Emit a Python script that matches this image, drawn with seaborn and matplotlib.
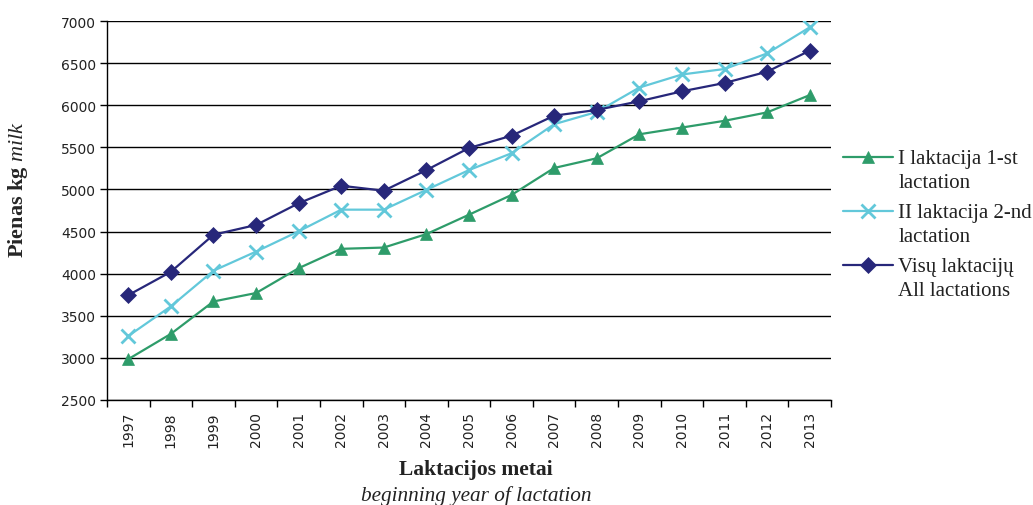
import matplotlib
matplotlib.use("Agg")
import numpy as np
import matplotlib.pyplot as plt
import seaborn as sns
import pandas as pd
from matplotlib.ticker import FixedLocator
from matplotlib.legend_handler import HandlerLine2D

years = list(range(1997, 2014))
first_lact = [2985, 3285, 3670, 3770, 4065, 4295, 4310, 4470, 4700, 4935, 5255, 5370, 5655, 5735, 5815, 5915, 6120]
second_lact = [3260, 3612, 4035, 4262, 4503, 4760, 4760, 4995, 5230, 5430, 5775, 5920, 6210, 6365, 6430, 6615, 6925]
all_lact = [3745, 4022, 4462, 4578, 4836, 5044, 4985, 5230, 5492, 5638, 5876, 5944, 6047, 6165, 6264, 6398, 6648]
series_names = ["I laktacija 1-st\nlactation", "II laktacija 2-nd\nlactation", "Visų laktacijų\nAll lactations"]
colors = ["#2e9c6a", "#62c8da", "#27277a"]
markers = ["^", "x", "D"]

sns.set_theme(style="white")
plt.rcParams["mathtext.fontset"] = "custom"
plt.rcParams["mathtext.rm"] = "Liberation Serif"
plt.rcParams["mathtext.bf"] = "Liberation Serif:bold"
plt.rcParams["mathtext.it"] = "Liberation Serif:italic"

fig = plt.figure(figsize=(10.33, 5.06), dpi=100)
ax = fig.add_axes([107 / 1033, 1 - 401 / 506, (831 - 107) / 1033, (401 - 22) / 506])

for vals, name, c, m in zip([first_lact, second_lact, all_lact], series_names, colors, markers):
    d = pd.DataFrame({"year": years, "value": vals})
    ms = {"^": 9, "x": 10, "D": 8}[m]
    sns.lineplot(data=d, x="year", y="value", color=c, marker=m, markersize=ms,
                 markeredgecolor=c, markerfacecolor=c,
                 markeredgewidth=(2.0 if m == "x" else 0.5),
                 linewidth=1.6, label=name, legend=False, ax=ax)

ax.set_xlim(years[0] - 0.5, years[-1] + 0.5)
ax.set_ylim(2500, 7000)
ax.set_yticks(range(2500, 7001, 500))
ax.set_xticks(years)
ax.set_xticklabels([str(y) for y in years], rotation=90, fontsize=10, family="DejaVu Sans", color="#222222")
ax.xaxis.set_minor_locator(FixedLocator([y - 0.5 for y in years] + [years[-1] + 0.5]))
ax.tick_params(axis="x", which="major", length=0, pad=8)
ax.tick_params(axis="x", which="minor", length=5, width=1, color="black", direction="out", bottom=True)
ax.tick_params(axis="y", length=5, width=1, color="black", direction="out", left=True, labelsize=10, labelcolor="#222222", pad=3)

ax.grid(axis="y", color="black", linewidth=1)
ax.grid(axis="x", visible=False)
for s in ["top", "right"]:
    ax.spines[s].set_visible(False)
for s in ["left", "bottom"]:
    ax.spines[s].set_color("black")
    ax.spines[s].set_linewidth(1)
ax.set_xlabel("")
ax.set_ylabel("")

fig.text(18 / 1033, 1 - 190 / 506, r"$\mathbf{Pienas\ kg}\ \mathit{milk}$", rotation=90,
         ha="center", va="center", fontsize=16)
fig.text(476 / 1033, 1 - 470 / 506, "Laktacijos metai", ha="center", va="center",
         fontsize=15.5, family="Liberation Serif", weight="bold", color="#222222")
fig.text(476 / 1033, 1 - 496 / 506, "beginning year of lactation", ha="center", va="center",
         fontsize=15.3, family="Liberation Serif", style="italic", color="#222222")


class UpHandler(HandlerLine2D):
    def create_artists(self, legend, orig_handle, xdescent, ydescent, width, height, fontsize, trans):
        arts = super().create_artists(legend, orig_handle, xdescent, ydescent, width, height, fontsize, trans)
        for a in arts:
            a.set_ydata(np.asarray(a.get_ydata(), dtype=float) + 0.62 * fontsize)
        return arts


handles = ax.lines[:3]
leg = ax.legend(handles=handles, labels=series_names, loc="upper left",
                bbox_to_anchor=(843 / 1033, 1 - 150 / 506), bbox_transform=fig.transFigure,
                frameon=False, numpoints=1, handlelength=2.4, handletextpad=0.25,
                labelspacing=0.55, borderpad=0, borderaxespad=0,
                handler_map={h: UpHandler() for h in handles},
                prop={"family": "Liberation Serif", "size": 15})
for t in leg.get_texts():
    t.set_color("#222222")
    t.set_linespacing(1.33)

fig.savefig("out.png", dpi=100)
